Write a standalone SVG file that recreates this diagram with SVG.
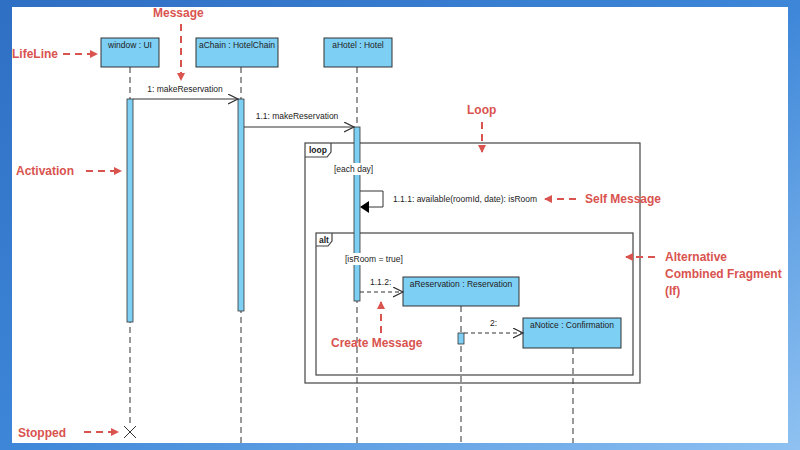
<svg xmlns="http://www.w3.org/2000/svg" width="800" height="450" viewBox="0 0 800 450">
<defs>
<linearGradient id="bg" x1="0" y1="0" x2="1" y2="1"><stop offset="0" stop-color="#2f6fc4"/><stop offset="0.5" stop-color="#3d86d8"/><stop offset="1" stop-color="#8fc2f2"/></linearGradient>
<marker id="open" markerWidth="12" markerHeight="12" refX="10" refY="5" orient="auto" markerUnits="userSpaceOnUse"><path d="M0,0 L10,5 L0,10" fill="none" stroke="#333" stroke-width="1.2"/></marker>
<marker id="red" markerWidth="8" markerHeight="8" refX="7" refY="4" orient="auto" markerUnits="userSpaceOnUse"><path d="M0,0 L8,4 L0,8 Z" fill="#d9534f"/></marker>
</defs>
<style>
.box{fill:#7dcff4;stroke:#333;stroke-width:1}
.act{fill:#7dcff4;stroke:#333;stroke-width:0.8}
.life{stroke:#333;stroke-width:1;stroke-dasharray:6,4;fill:none}
.t{font-family:"Liberation Sans",Arial,sans-serif;font-size:8.5px;fill:#222}
.msg{stroke:#333;stroke-width:1;fill:none}
.frame{fill:none;stroke:#444;stroke-width:1.2}
.ann{font-family:"Liberation Sans",Arial,sans-serif;font-size:12px;font-weight:bold;fill:#d9534f}
.ar{stroke:#d9534f;stroke-width:2;stroke-dasharray:7,5;fill:none}
</style>
<rect width="800" height="450" fill="url(#bg)"/>
<rect x="12" y="7" width="776" height="436" fill="#ffffff"/>
<g id="lifelines">
<line class="life" x1="130" y1="67" x2="130" y2="425"/>
<line class="life" x1="241" y1="67" x2="241" y2="443"/>
<line class="life" x1="357" y1="67" x2="357" y2="443"/>
<line class="life" x1="461" y1="306" x2="461" y2="443"/>
<line class="life" x1="573" y1="348" x2="573" y2="443"/>
</g>
<g id="frames">
<rect class="frame" x="305" y="143" width="335" height="240"/>
<path class="frame" d="M305,157 H327 L331,152 V143"/>
<text class="t" x="309" y="153" font-weight="bold">loop</text>
<rect class="frame" x="316" y="233" width="317" height="142"/>
<path class="frame" d="M316,246 H328 L332,241 V233"/>
<text class="t" x="319" y="243" font-weight="bold">alt</text>
</g>
<g id="window"><rect class="box" x="101" y="38" width="58" height="29"/><text class="t" x="130" y="48" text-anchor="middle">window : UI</text><rect class="act" x="127" y="99" width="6" height="223"/></g>
<g id="aChain"><rect class="box" x="196" y="38" width="82" height="29"/><text class="t" x="237" y="48" text-anchor="middle">aChain : HotelChain</text><rect class="act" x="238" y="99" width="6" height="212"/></g>
<g id="aHotel"><rect class="box" x="324" y="38" width="68" height="29"/><text class="t" x="358" y="48" text-anchor="middle">aHotel : Hotel</text><rect class="act" x="354" y="127" width="6" height="174"/></g>
<g id="aReservation"><rect class="box" x="403" y="277" width="116" height="29"/><text class="t" x="461" y="287" text-anchor="middle">aReservation : Reservation</text><rect class="act" x="458" y="333" width="6" height="11"/></g>
<g id="aNotice"><rect class="box" x="523" y="318" width="98" height="30"/><text class="t" x="572" y="328" text-anchor="middle">aNotice : Confirmation</text></g>
<g id="guards">
<rect x="333" y="163" width="42" height="12" fill="#fff"/>
<text class="t" x="334" y="172">[each day]</text>
<rect x="344" y="253" width="60" height="12" fill="#fff"/>
<text class="t" x="345" y="262">[isRoom = true]</text>
</g>
<g id="connectors">
<line class="msg" x1="133" y1="99" x2="238" y2="99" marker-end="url(#open)"/>
<text class="t" x="185" y="92" text-anchor="middle">1: makeReservation</text>
<line class="msg" x1="244" y1="127" x2="354" y2="127" marker-end="url(#open)"/>
<text class="t" x="297" y="119" text-anchor="middle">1.1: makeReservation</text>
<path class="msg" d="M360,191 H383 V207 H368"/>
<path d="M360,207 L369,201 L369,213 Z" fill="#000"/>
<text class="t" x="393" y="202">1.1.1: available(roomId, date): isRoom</text>
<line class="msg" x1="360" y1="292" x2="403" y2="292" stroke-dasharray="4,3" marker-end="url(#open)"/>
<text class="t" x="370" y="285">1.1.2:</text>
<line class="msg" x1="464" y1="333" x2="523" y2="333" stroke-dasharray="4,3" marker-end="url(#open)"/>
<text class="t" x="490" y="326">2:</text>
<path d="M124,426 L136,438 M136,426 L124,438" stroke="#333" stroke-width="1"/>
</g>
<g id="annotations">
<text class="ann" x="153" y="17">Message</text>
<line class="ar" x1="181" y1="24" x2="181" y2="80" marker-end="url(#red)"/>
<text class="ann" x="12" y="58">LifeLine</text>
<line class="ar" x1="63" y1="54" x2="97" y2="54" marker-end="url(#red)"/>
<text class="ann" x="16" y="175">Activation</text>
<line class="ar" x1="86" y1="171" x2="121" y2="171" marker-end="url(#red)"/>
<text class="ann" x="467" y="114">Loop</text>
<line class="ar" x1="482" y1="122" x2="482" y2="152" marker-end="url(#red)"/>
<text class="ann" x="585" y="203">Self Message</text>
<line class="ar" x1="576" y1="199" x2="545" y2="199" marker-end="url(#red)"/>
<text class="ann" x="665" y="261">Alternative</text>
<text class="ann" x="665" y="278">Combined Fragment</text>
<text class="ann" x="665" y="295">(If)</text>
<line class="ar" x1="655" y1="257" x2="626" y2="257" marker-end="url(#red)"/>
<text class="ann" x="331" y="347">Create Message</text>
<line class="ar" x1="381" y1="333" x2="381" y2="302" marker-end="url(#red)"/>
<text class="ann" x="18" y="437">Stopped</text>
<line class="ar" x1="84" y1="432" x2="118" y2="432" marker-end="url(#red)"/>
</g>
</svg>
